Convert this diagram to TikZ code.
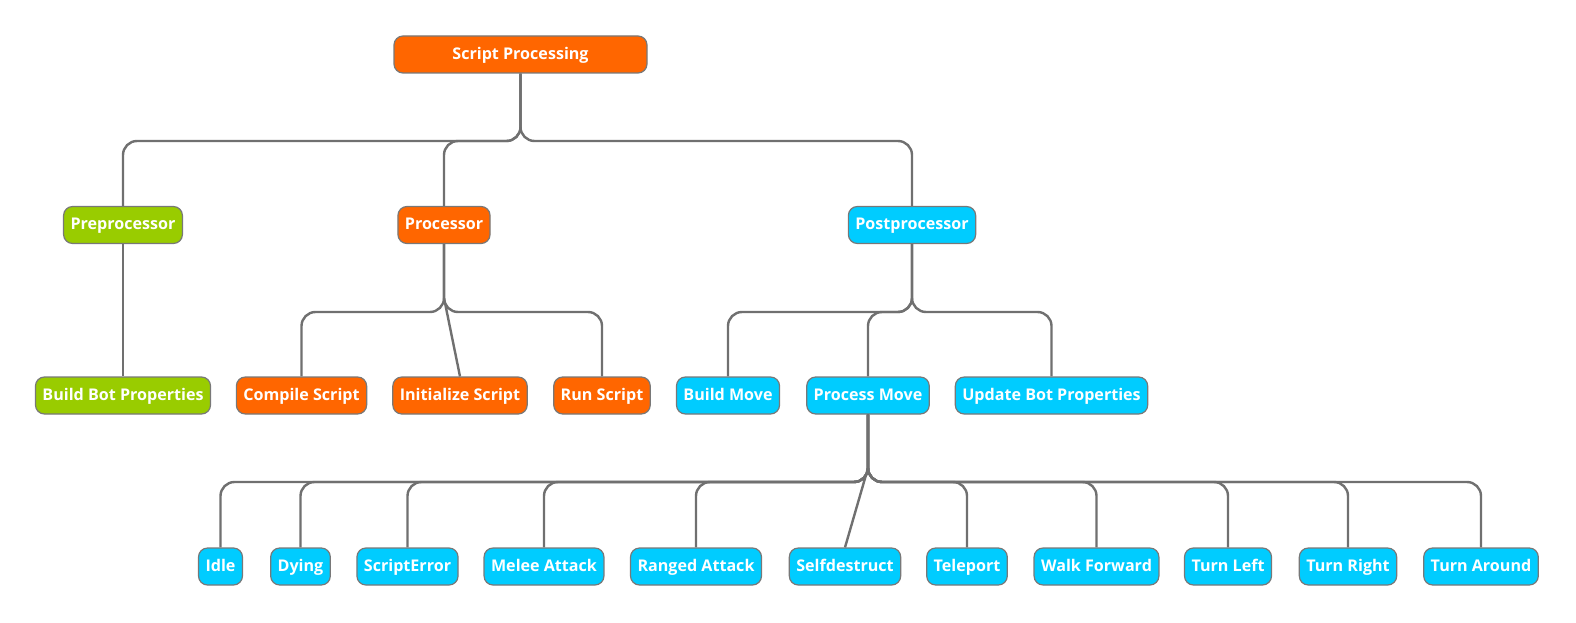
\documentclass[tikz,border=0pt]{standalone}
\usepackage{fontspec}
\setmainfont{Open Sans}
\definecolor{orng}{HTML}{FF6600}
\definecolor{grn}{HTML}{99CC00}
\definecolor{cyn}{HTML}{00CCFF}
\definecolor{lnc}{HTML}{707070}
\definecolor{bdc}{HTML}{787878}
\tikzset{
  box/.style={draw=bdc, line width=1.2pt, rounded corners=9pt, text=white,
    font=\fontsize{16.1}{18}\selectfont\bfseries, inner xsep=7pt, inner ysep=0pt,
    text height=13pt, text depth=3.4pt, minimum height=37pt},
  ob/.style={box, fill=orng},
  gb/.style={box, fill=grn},
  cb/.style={box, fill=cyn},
  conn/.style={draw=lnc, line width=2.4pt, rounded corners=14pt},
  diag/.style={draw=lnc, line width=2.4pt}
}
\begin{document}
\begin{tikzpicture}[x=1pt,y=-1pt]
\useasboundingbox (0,0) rectangle (1576,623);
\fill[white] (0,0) rectangle (1576,623);
\coordinate (b1) at (0,141);
\coordinate (b2) at (0,312);
\coordinate (b3) at (0,482);
\coordinate (d2) at (0,298);
\coordinate (d3) at (0,468);
% level 1
\node[ob, minimum width=253pt] (sp) at (520.5,54.5) {Script Processing};
% level 2
\node[gb] (pre) at (123,225) {Preprocessor};
\node[ob] (pro) at (444,225) {Processor};
\node[cb] (post) at (912,225) {Postprocessor};
% level 3
\node[gb] (bbp) at (123,395.5) {Build Bot Properties};
\node[ob] (cs) at (301.5,395.5) {Compile Script};
\node[ob] (is) at (460,395.5) {Initialize Script};
\node[ob] (rs) at (602,395.5) {Run Script};
\node[cb] (bm) at (728,395.5) {Build Move};
\node[cb] (pm) at (868,395.5) {Process Move};
\node[cb] (ubp) at (1051.5,395.5) {Update Bot Properties};
% level 4
\node[cb] (idle) at (220.5,566.5) {Idle};
\node[cb] (dy) at (300.5,566.5) {Dying};
\node[cb] (se) at (407.5,566.5) {ScriptError};
\node[cb] (ma) at (544,566.5) {Melee Attack};
\node[cb] (ra) at (696,566.5) {Ranged Attack};
\node[cb] (sd) at (845,566.5) {Selfdestruct};
\node[cb] (tp) at (967,566.5) {Teleport};
\node[cb] (wf) at (1096.5,566.5) {Walk Forward};
\node[cb] (tl) at (1228,566.5) {Turn Left};
\node[cb] (tr) at (1348,566.5) {Turn Right};
\node[cb] (ta) at (1481,566.5) {Turn Around};
% connectors level 1 -> 2
\foreach \c in {pre,pro,post}
  \draw[conn] (sp.south) -- (sp.south |- b1) -- (\c.north |- b1) -- (\c.north);
% level 2 -> 3
\draw[diag] (pre.south) -- (bbp.north);
\foreach \c in {cs,rs}
  \draw[conn] (pro.south) -- (pro.south |- b2) -- (\c.north |- b2) -- (\c.north);
\draw[diag] (pro.south) -- (pro.south |- d2) -- (is.north);
\foreach \c in {bm,pm,ubp}
  \draw[conn] (post.south) -- (post.south |- b2) -- (\c.north |- b2) -- (\c.north);
% level 3 -> 4
\foreach \c in {idle,dy,se,ma,ra,tp,wf,tl,tr,ta}
  \draw[conn] (pm.south) -- (pm.south |- b3) -- (\c.north |- b3) -- (\c.north);
\draw[diag] (pm.south) -- (pm.south |- d3) -- (sd.north);
\end{tikzpicture}
\end{document}
